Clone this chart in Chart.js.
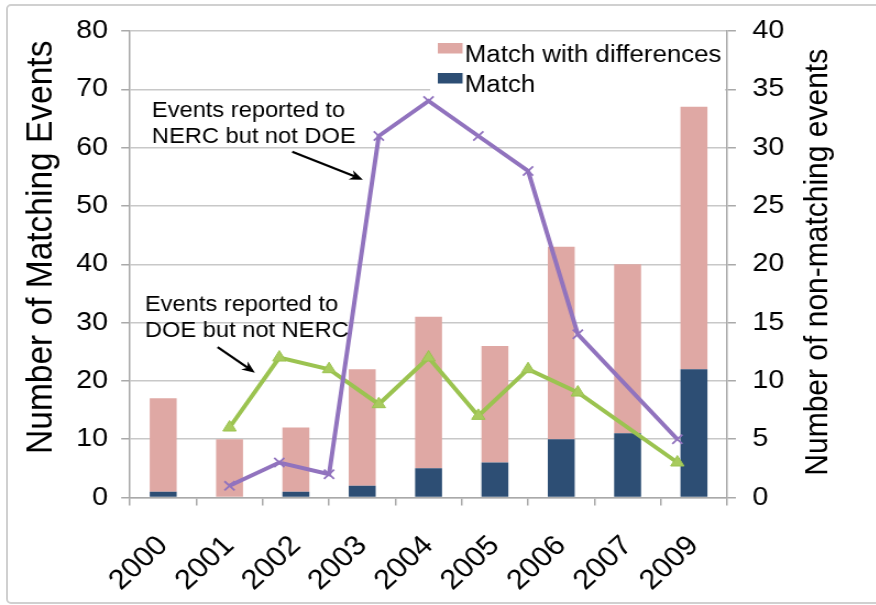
<!DOCTYPE html>
<html><head><meta charset="utf-8">
<script src="https://cdn.jsdelivr.net/npm/chart.js@4.4.1/dist/chart.umd.min.js"></script>
<style>
html,body{margin:0;padding:0;background:#fff;overflow:hidden;width:876px;height:605px;}
#frame{position:absolute;left:6px;top:4px;width:920px;height:600px;border:2px solid #d0d0d0;border-radius:5px;box-sizing:border-box;}
#wrap{position:absolute;left:0;top:0;width:796px;height:605px;transform:scaleX(1.1);transform-origin:0 0;}
</style></head><body>
<div id="frame"></div>
<div id="wrap"><canvas id="c" width="796" height="605"></canvas></div>
<script>
// ---- data ----
const years = ['2000','2001','2002','2003','2004','2005','2006','2007','2009'];
const matchValues = [1, 0, 1, 2, 5, 6, 10, 11, 22];
const matchDiffValues = [16, 10, 11, 20, 26, 20, 33, 29, 45];
const lineYears = ['1998','1999','2000','2001','2002','2003','2004','2005','2006','2007','2008','2009','2010'];
const nercNotDoe = [null, null, 1, 3, 2, 31, 34, 31, 28, 14, null, 5, null];
const doeNotNerc = [null, null, 6, 12, 11, 8, 12, 7, 11, 9, null, 3, null];
const seriesNames = ['Match', 'Match with differences', 'NERC not DOE', 'DOE not NERC'];
const leftTitle = 'Number of Matching Events';
const rightTitle = 'Number of non-matching events';
const noteTexts = [['Events reported to','NERC but not DOE'], ['Events reported to','DOE but not NERC']];

// ---- styles ----
const F = "'Liberation Sans', Arial, Helvetica, sans-serif";
const C_MATCH = '#2D4E74', C_DIFF = '#DFA8A4', C_PURPLE = '#9173BE', C_GREEN = '#9BC350';
const AXIS = '#a9a9a9', GRID = '#c8c8c8';

// annotation anchors in scale units (x2 index, left-axis value)
const notes = [
  {text: noteTexts[0], x: 0.44, y: [65.3, 60.8], arrow: [3.26, 59.3, 4.68, 54.5]},
  {text: noteTexts[1], x: 0.30, y: [32.0, 27.5], arrow: [1.76, 25.8, 2.51, 21.4]}
];

function verticalText(ctx, text, x, y, size) {
  ctx.save();
  ctx.font = size + 'px ' + F;
  ctx.fillStyle = '#000';
  ctx.textAlign = 'center';
  ctx.textBaseline = 'middle';
  ctx.translate(x, y);
  ctx.rotate(-Math.PI / 2);
  ctx.fillText(text, 0, 0);
  ctx.restore();
}

const legendPlugin = {
  id: 'customLegend',
  beforeDatasetsDraw(chart) {
    const ctx = chart.ctx, a = chart.chartArea;
    ctx.save();
    ctx.fillStyle = '#fff';
    ctx.fillRect(a.right - 270, a.top + 1.5, 268, 63);
    const items = [
      {label: chart.data.datasets[1].label, color: chart.data.datasets[1].backgroundColor},
      {label: chart.data.datasets[0].label, color: chart.data.datasets[0].backgroundColor}
    ];
    ctx.font = '23.5px ' + F;
    ctx.textBaseline = 'alphabetic';
    items.forEach((it, i) => {
      const base = a.top + 31 + i * 30;
      ctx.fillStyle = it.color;
      ctx.fillRect(a.right - 263, base - 19, 22.5, 10.5);
      ctx.fillStyle = '#000';
      ctx.fillText(it.label, a.right - 238.5, base);
    });
    ctx.restore();
  },
  afterDraw(chart) {
    const ctx = chart.ctx, a = chart.chartArea;
    const sx = chart.scales.x2, sy = chart.scales.y, sy2 = chart.scales.y2;
    // axis titles, both reading bottom-to-top
    verticalText(ctx, leftTitle, sy.left + 38, (a.top + a.bottom) / 2 - 17, 33.5);
    verticalText(ctx, rightTitle, sy2.left + 82.6, (a.top + a.bottom) / 2 - 2, 30);

    ctx.save();
    ctx.font = '21.5px ' + F;
    ctx.fillStyle = '#000';
    ctx.textBaseline = 'alphabetic';
    notes.forEach(n => {
      const x = sx.getPixelForValue(n.x);
      n.text.forEach((t, i) => ctx.fillText(t, x, sy.getPixelForValue(n.y[i])));
      const x1 = sx.getPixelForValue(n.arrow[0]), y1 = sy.getPixelForValue(n.arrow[1]);
      const x2 = sx.getPixelForValue(n.arrow[2]), y2 = sy.getPixelForValue(n.arrow[3]);
      const ang = Math.atan2(y2 - y1, x2 - x1);
      const L = 12, W = 5;
      ctx.strokeStyle = '#000';
      ctx.lineWidth = 2.2;
      ctx.beginPath();
      ctx.moveTo(x1, y1);
      ctx.lineTo(x2 - Math.cos(ang) * L * 0.7, y2 - Math.sin(ang) * L * 0.7);
      ctx.stroke();
      ctx.beginPath();
      ctx.moveTo(x2, y2);
      ctx.lineTo(x2 - Math.cos(ang) * L - Math.sin(ang) * W, y2 - Math.sin(ang) * L + Math.cos(ang) * W);
      ctx.lineTo(x2 - Math.cos(ang) * L * 0.7, y2 - Math.sin(ang) * L * 0.7);
      ctx.lineTo(x2 - Math.cos(ang) * L + Math.sin(ang) * W, y2 - Math.sin(ang) * L - Math.cos(ang) * W);
      ctx.closePath();
      ctx.fill();
    });
    ctx.restore();
  }
};

new Chart(document.getElementById('c'), {
  type: 'bar',
  data: {
    labels: years,
    datasets: [
      {label: seriesNames[0], data: matchValues, backgroundColor: C_MATCH, xAxisID: 'x', yAxisID: 'y',
       grouped: false, barPercentage: 0.406, categoryPercentage: 1, order: 3},
      {label: seriesNames[1], data: matchDiffValues, backgroundColor: C_DIFF, xAxisID: 'x', yAxisID: 'y',
       grouped: false, barPercentage: 0.406, categoryPercentage: 1, order: 3},
      {type: 'line', label: seriesNames[2], data: nercNotDoe, xAxisID: 'x2', yAxisID: 'y2',
       borderColor: C_PURPLE, borderWidth: 4, pointStyle: 'crossRot', pointRadius: 6.5,
       pointBorderWidth: 1.8, pointBorderColor: C_PURPLE, pointBackgroundColor: C_PURPLE,
       spanGaps: true, tension: 0, fill: false, order: 0},
      {type: 'line', label: seriesNames[3], data: doeNotNerc, xAxisID: 'x2', yAxisID: 'y2',
       borderColor: C_GREEN, borderWidth: 4, pointStyle: 'triangle', pointRadius: 7,
       pointBorderWidth: 1, pointBorderColor: C_GREEN, pointBackgroundColor: '#A8CB5E',
       spanGaps: true, tension: 0, fill: false, order: 1}
    ]
  },
  options: {
    responsive: false, animation: false, devicePixelRatio: 1, events: [],
    layout: {padding: {top: 31, left: 0, right: 0, bottom: 0}},
    plugins: {legend: {display: false}, tooltip: {enabled: false}},
    scales: {
      x: {type: 'category', labels: years, offset: true, stacked: true, position: 'bottom',
          grid: {offset: true, drawOnChartArea: false, drawTicks: true, tickLength: 8, color: AXIS, lineWidth: 1.5},
          border: {color: AXIS, width: 1.5},
          ticks: {font: {family: F, size: 28}, color: '#000', minRotation: 45, maxRotation: 45, autoSkip: false, padding: 24},
          afterFit(s) { s.height = 107.5; }},
      x2: {type: 'category', labels: lineYears, offset: false, display: false},
      y: {position: 'left', stacked: true, min: 0, max: 80,
          ticks: {stepSize: 10, font: {family: F, size: 26}, color: '#000', padding: 12},
          grid: {color: GRID, lineWidth: 1.5, tickLength: 8, tickColor: AXIS},
          border: {color: AXIS, width: 1.5},
          title: {display: false},
          afterFit(s) { s.width = 118.2; }},
      y2: {position: 'right', min: 0, max: 40,
          ticks: {stepSize: 5, font: {family: F, size: 26}, color: '#000', padding: 15},
          grid: {drawOnChartArea: false, tickLength: 8, color: AXIS, lineWidth: 1.5},
          border: {color: AXIS, width: 1.5},
          title: {display: false},
          afterFit(s) { s.width = 135; }}
    }
  },
  plugins: [legendPlugin]
});
</script>
</body></html>
